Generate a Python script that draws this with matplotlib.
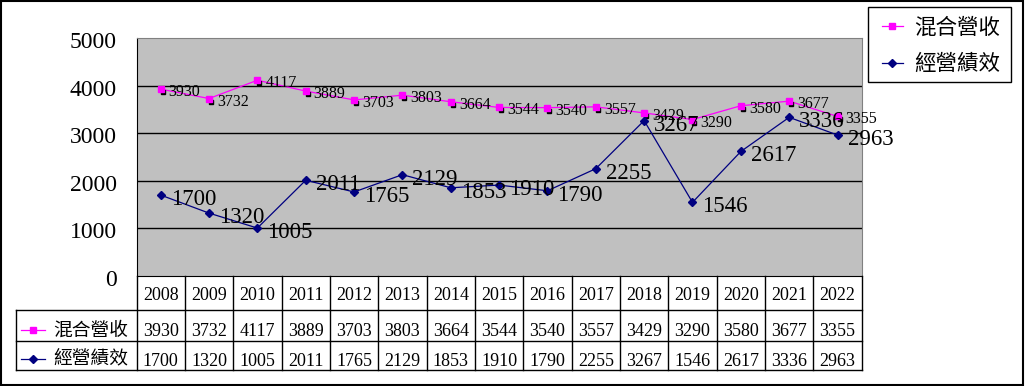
import matplotlib
matplotlib.use("Agg")
import matplotlib.pyplot as plt
from matplotlib.lines import Line2D
from matplotlib.patches import Rectangle
from matplotlib import transforms as mtransforms

# ---------------- datos ----------------
years = ["2008", "2009", "2010", "2011", "2012", "2013", "2014", "2015",
         "2016", "2017", "2018", "2019", "2020", "2021", "2022"]
revenue = [3930, 3732, 4117, 3889, 3703, 3803, 3664, 3544, 3540, 3557, 3429, 3290, 3580, 3677, 3355]
perform = [1700, 1320, 1005, 2011, 1765, 2129, 1853, 1910, 1790, 2255, 3267, 1546, 2617, 3336, 2963]
series_names = ["混合營收", "經營績效"]
yticks = [0, 1000, 2000, 3000, 4000, 5000]

PINK = "#FF00FF"
NAVY = "#000080"
SERIF = "Liberation Serif"
CJK = ["Noto Sans CJK TC", "DejaVu Sans"]

W, H = 1029, 386
fig = plt.figure(figsize=(W / 100, H / 100), dpi=100)


def fx(px):
    return px / W


def fy(py):
    return 1 - py / H


# marco exterior
fig.add_artist(Rectangle((fx(1), fy(385)), fx(1022), 384 / H, transform=fig.transFigure,
                         fill=False, edgecolor="black", lw=1.5))

# ---------------- area del grafico ----------------
x_left, x_right = 136.5, 861.7
ax = fig.add_axes([fx(x_left), fy(275.8), fx(x_right) - fx(x_left), fy(38.3) - fy(275.8)])
ax.set_facecolor("#C0C0C0")
ax.set_xlim(-0.5, len(years) - 0.5)
ax.set_ylim(0, 5000)
ax.set_xticks([])
ax.set_yticks([])
for v in yticks[1:-1]:
    ax.axhline(v, color="black", lw=1, zorder=1)
for s in ["top", "right"]:
    ax.spines[s].set_color("#808080")
for s in ["left", "bottom"]:
    ax.spines[s].set_color("black")

# etiquetas del eje y (a mano para controlar la linea base)
ylab_tr = mtransforms.blended_transform_factory(fig.transFigure, ax.transData)
ylab_tr = mtransforms.offset_copy(ylab_tr, fig=fig, x=0, y=-10, units="dots")
for v in yticks:
    ax.text(fx(117), v, str(v), transform=ylab_tr, ha="right", va="baseline",
            fontsize=17, family=SERIF, clip_on=False)

xs = list(range(len(years)))

# serie rosa
ax.plot(xs, revenue, color=PINK, lw=0.9, zorder=3)
sq_tr = mtransforms.offset_copy(ax.transData, fig=fig, x=2, y=-3, units="dots")
ax.plot(xs, revenue, ls="none", marker="s", ms=3.4, color="black", transform=sq_tr, zorder=3)
ax.plot(xs, revenue, ls="none", marker="s", ms=4.3, color=PINK, zorder=4)
for x, v in zip(xs, revenue):
    ax.annotate(str(v), (x, v), xytext=(8, -7), textcoords="offset pixels",
                ha="left", va="baseline", fontsize=11.5, family=SERIF, zorder=6,
                annotation_clip=False)

# serie azul
ax.plot(xs, perform, color=NAVY, lw=0.9, marker="D", ms=4, zorder=5)
for x, v in zip(xs, perform):
    ax.annotate(str(v), (x, v), xytext=(10, -10), textcoords="offset pixels",
                ha="left", va="baseline", fontsize=16.5, family=SERIF, zorder=6,
                annotation_clip=False)

# ---------------- tabla de datos ----------------
t_top, t_bot = 275.8, 370
tax = fig.add_axes([fx(x_left), fy(t_bot), fx(x_right) - fx(x_left), fy(t_top) - fy(t_bot)])
tax.set_xlim(-0.5, len(years) - 0.5)
tax.set_ylim(t_bot - t_top, 0)
tax.axis("off")
colw = (x_right - x_left) / len(years)
x_tab_left = -0.5 - (x_left - 16) / colw
r1, r2, r3 = 310 - t_top, 341 - t_top, t_bot - t_top

kw = dict(color="black", lw=1, clip_on=False)
tax.plot([x_tab_left, 14.5], [r1, r1], **kw)
tax.plot([x_tab_left, 14.5], [r2, r2], **kw)
tax.plot([x_tab_left, 14.5], [r3, r3], **kw)
tax.plot([x_tab_left, x_tab_left], [r1, r3], **kw)
for i in range(len(years) + 1):
    tax.plot([i - 0.5, i - 0.5], [0, r3], **kw)

for i, yr in enumerate(years):
    tax.text(i, 300 - t_top, yr, ha="center", va="baseline", fontsize=13, family=SERIF)
    tax.text(i, 336 - t_top, str(revenue[i]), ha="center", va="baseline", fontsize=13, family=SERIF)
    tax.text(i, 366 - t_top, str(perform[i]), ha="center", va="baseline", fontsize=13, family=SERIF)


def key(x0, x1, ypx, color, marker, ms):
    fig.add_artist(Line2D([fx(x0), fx((x0 + x1) / 2), fx(x1)], [fy(ypx)] * 3,
                          transform=fig.transFigure, color=color, lw=0.9,
                          marker=marker, ms=ms, markevery=[1]))


# claves de la tabla
key(21, 45, 330, PINK, "s", 4.3)
key(21, 45, 359, NAVY, "D", 4)
fig.text(fx(53), fy(330), series_names[0], ha="left", va="center", fontsize=13.5, family=CJK)
fig.text(fx(53), fy(359), series_names[1], ha="left", va="center", fontsize=13.5, family=CJK)

# ---------------- leyenda ----------------
fig.add_artist(Rectangle((fx(868.3), fy(82)), fx(1011) - fx(868.3), fy(7.3) - fy(82),
                         transform=fig.transFigure, fill=False, edgecolor="black", lw=1))
key(881.7, 903, 26, PINK, "s", 4.3)
key(881.7, 903, 63.3, NAVY, "D", 4)
fig.text(fx(914), fy(27.5), series_names[0], ha="left", va="center", fontsize=15.5, family=CJK)
fig.text(fx(914), fy(64), series_names[1], ha="left", va="center", fontsize=15.5, family=CJK)

fig.savefig("out.png", dpi=100)
